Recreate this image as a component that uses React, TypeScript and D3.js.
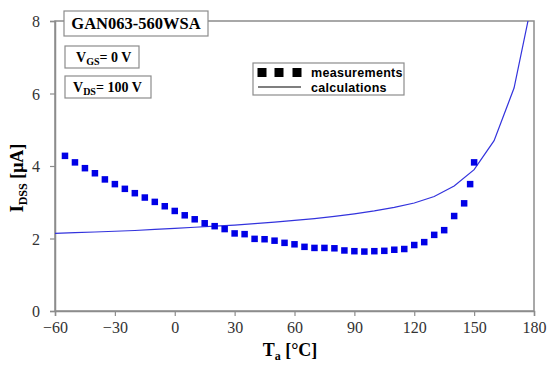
import React, { useEffect, useRef } from "react";
import * as d3 from "d3";

// measured leakage current, I_DSS in µA vs ambient temperature
const measTemps = [-55, -50, -45, -40, -35, -30, -25, -20, -15, -10, -5, 0, 5, 10, 15, 20, 25, 30, 35, 40, 45, 50, 55, 60, 65, 70, 75, 80, 85, 90, 95, 100, 105, 110, 115, 120, 125, 130, 135, 140, 145, 148, 150];
const measValues = [4.28, 4.1, 3.94, 3.8, 3.63, 3.5, 3.37, 3.25, 3.13, 3.01, 2.89, 2.76, 2.64, 2.53, 2.42, 2.34, 2.26, 2.14, 2.12, 1.99, 1.98, 1.94, 1.88, 1.84, 1.77, 1.74, 1.74, 1.73, 1.67, 1.65, 1.64, 1.65, 1.66, 1.69, 1.71, 1.82, 1.9, 2.1, 2.23, 2.62, 2.97, 3.5, 4.1];

// calculated curve
const calcTemps = [-60, -50, -40, -30, -20, -10, 0, 10, 20, 30, 40, 50, 60, 70, 80, 90, 100, 110, 120, 130, 140, 150, 160, 170, 180];
const calcValues = [2.14, 2.16, 2.18, 2.2, 2.22, 2.25, 2.28, 2.31, 2.34, 2.37, 2.41, 2.45, 2.5, 2.55, 2.61, 2.68, 2.76, 2.86, 2.98, 3.16, 3.45, 3.9, 4.7, 6.15, 8.8];

const xTicks = [-60, -30, 0, 30, 60, 90, 120, 150, 180];
const yTicks = [0, 2, 4, 6, 8];

const App = () => {
  const ref = useRef<SVGSVGElement>(null);

  useEffect(() => {
    const svg = d3.select(ref.current);
    svg.selectAll("*").remove();

    const left = 55, right = 534, top = 21, bottom = 311;
    const x = d3.scaleLinear().domain([-60, 180]).range([left, right]);
    const y = d3.scaleLinear().domain([0, 8]).range([bottom, top]);
    const grey = "#8c8c8c";
    const serif = "'Liberation Serif', 'Times New Roman', serif";
    const sans = "'Liberation Sans', Arial, sans-serif";

    svg.append("defs").append("clipPath").attr("id", "plot")
      .append("rect").attr("x", left).attr("y", top).attr("width", right - left).attr("height", bottom - top);

    // frame
    svg.append("rect")
      .attr("x", left).attr("y", top).attr("width", right - left).attr("height", bottom - top)
      .attr("fill", "none").attr("stroke", grey).attr("stroke-width", 1.5);

    const xAxis = svg.append("g")
      .attr("transform", `translate(0,${bottom})`)
      .call(d3.axisBottom(x).tickValues(xTicks).tickSize(5).tickPadding(6).tickFormat((d) => d3.format("")(d as number).replace("-", "\u2212")));
    const yAxis = svg.append("g")
      .attr("transform", `translate(${left},0)`)
      .call(d3.axisLeft(y).tickValues(yTicks).tickSize(5).tickPadding(10));
    [xAxis, yAxis].forEach((a) => {
      a.attr("font-family", serif).attr("font-size", 16);
      a.select(".domain").attr("stroke", grey).attr("stroke-width", 1.5);
      a.selectAll(".tick line").attr("stroke", grey).attr("stroke-width", 1.2);
      a.selectAll("text").style("font-family", serif).style("font-size", "16px").attr("fill", "#333");
    });
    yAxis.selectAll("text").attr("dy", "0.35em");

    const plot = svg.append("g").attr("clip-path", "url(#plot)");

    const line = d3.line<number>()
      .x((d, i) => x(calcTemps[i]))
      .y((d) => y(d));
    plot.append("path")
      .datum(calcValues)
      .attr("d", line)
      .attr("fill", "none")
      .attr("stroke", "#3333dd")
      .attr("stroke-width", 1.2);

    const s = 6.5;
    plot.selectAll("rect.m")
      .data(measValues)
      .enter()
      .append("rect")
      .attr("class", "m")
      .attr("x", (d, i) => x(measTemps[i]) - s / 2)
      .attr("y", (d) => y(d) - s / 2)
      .attr("width", s).attr("height", s)
      .attr("fill", "#0000e6");

    // annotation boxes
    const box = (bx: number, by: number, w: number, h: number) =>
      svg.append("rect").attr("x", bx).attr("y", by).attr("width", w).attr("height", h)
        .attr("fill", "#fff").attr("stroke", grey).attr("stroke-width", 1.2);

    box(64, 11, 144, 25);
    svg.append("text").attr("x", 136).attr("y", 29).attr("text-anchor", "middle")
      .attr("font-family", serif).attr("font-weight", "bold").attr("font-size", 16.5)
      .text("GAN063-560WSA");

    box(65, 46, 74, 22);
    const vgs = svg.append("text").attr("x", 76).attr("y", 62)
      .attr("font-family", serif).attr("font-weight", "bold").attr("font-size", 14);
    vgs.append("tspan").text("V");
    vgs.append("tspan").attr("font-size", 10).attr("dy", 3).text("GS");
    vgs.append("tspan").attr("dy", -3).text("= 0 V");

    box(65, 76, 86, 22);
    const vds = svg.append("text").attr("x", 73).attr("y", 92)
      .attr("font-family", serif).attr("font-weight", "bold").attr("font-size", 14);
    vds.append("tspan").text("V");
    vds.append("tspan").attr("font-size", 10).attr("dy", 3).text("DS");
    vds.append("tspan").attr("dy", -3).text("= 100 V");

    // legend
    box(253, 63, 151, 32);
    [262, 279, 297].forEach((cx) => {
      svg.append("rect").attr("x", cx - 4.5).attr("y", 68).attr("width", 9).attr("height", 9).attr("fill", "#000");
    });
    svg.append("line").attr("x1", 258).attr("x2", 301).attr("y1", 87).attr("y2", 87)
      .attr("stroke", "#000").attr("stroke-width", 1.2);
    svg.append("text").attr("x", 311).attr("y", 77)
      .attr("font-family", sans).attr("font-weight", "bold").attr("font-size", 12.5).attr("letter-spacing", 0.3)
      .text("measurements");
    svg.append("text").attr("x", 311).attr("y", 92)
      .attr("font-family", sans).attr("font-weight", "bold").attr("font-size", 12.5).attr("letter-spacing", 0.3)
      .text("calculations");

    // axis titles
    const yt = svg.append("text")
      .attr("transform", `translate(23,178) rotate(-90)`)
      .attr("text-anchor", "middle")
      .attr("font-family", serif).attr("font-weight", "bold").attr("font-size", 18);
    yt.append("tspan").text("I");
    yt.append("tspan").attr("font-size", 12).attr("dy", 4).text("DSS");
    yt.append("tspan").attr("dy", -4).text(" [\u03bcA]");

    const xt = svg.append("text")
      .attr("x", 290).attr("y", 356)
      .attr("text-anchor", "middle")
      .attr("font-family", serif).attr("font-weight", "bold").attr("font-size", 18);
    xt.append("tspan").text("T");
    xt.append("tspan").attr("font-size", 12).attr("dy", 4).text("a");
    xt.append("tspan").attr("dy", -4).text(" [\u00b0C]");
  }, []);

  return (
    <svg ref={ref} width={550} height={371} style={{ position: "absolute", left: 0, top: 0, background: "#fff" }}></svg>
  );
};

export default App;
